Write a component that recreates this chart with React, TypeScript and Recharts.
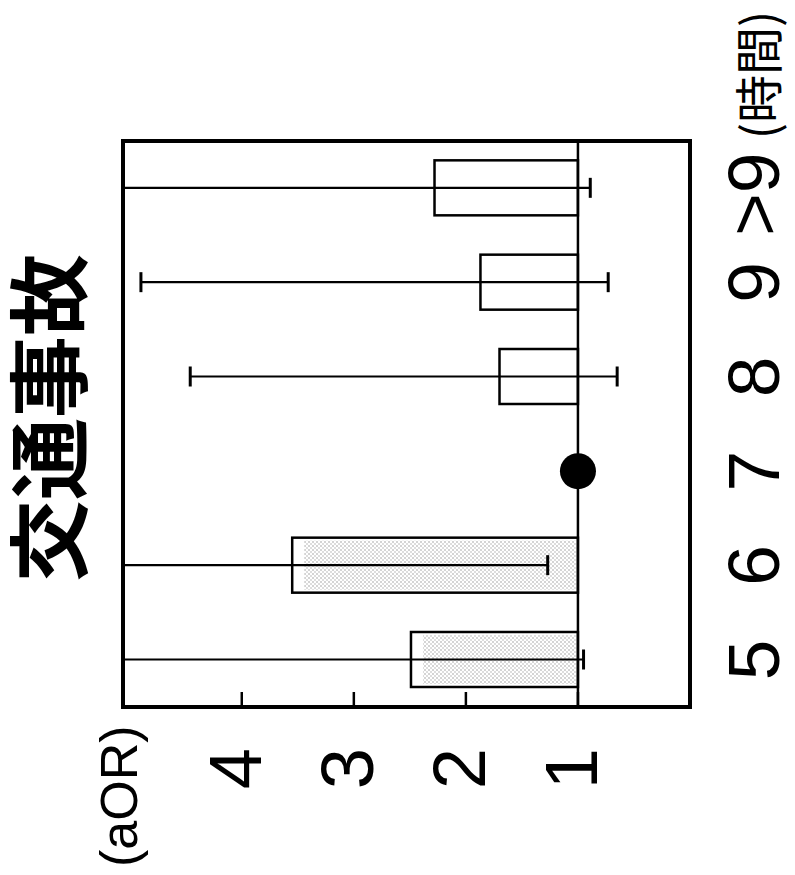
import { ComposedChart, Bar, XAxis, YAxis, ReferenceLine, ReferenceDot, ReferenceArea } from 'recharts';

// adjusted odds ratio of traffic accidents by sleep hours
const categories = ['5', '6', '7', '8', '9', '>9'];
const aor = [2.49, 3.55, null, 1.7, 1.87, 2.28];
const ciLow = [0.95, 1.27, null, 0.65, 0.73, 0.89];
const ciHigh = [5.8, 6.2, null, 4.46, 4.9, 5.6];
const yTicks = [1, 2, 3, 4];
const referenceCategory = '7';
const shadedCategories = ['5', '6'];

const data = categories.map((cat, i) => ({
    cat,
    bar: aor[i] == null ? null : [1, aor[i]],
    ci: ciLow[i] == null ? null : [ciLow[i], ciHigh[i]],
}));

const W = 875;
const H = 795;
const DOMAIN: [number, number] = [0, 5.06];
const latin = "'Liberation Sans', Arial, sans-serif";
const cjk = "'Noto Sans CJK JP', sans-serif";

const BarShape = (props: any) => {
    const { x, y, width, height, payload } = props;
    if (!height) return null;
    const top = Math.min(y, y + height);
    const h = Math.abs(height);
    const shaded = shadedCategories.includes(payload.cat);
    return (
        <g>
            <rect x={x} y={top} width={width} height={h} fill="#fff" />
            {shaded && h > 14 && (
                <rect x={x + 3} y={top + 12} width={width - 6} height={h - 14} fill="url(#stipple)" />
            )}
            <rect x={x} y={top} width={width} height={h} fill="none" stroke="#000" strokeWidth={2.5} />
        </g>
    );
};

const Whisker = (props: any) => {
    const { x, y, width, height } = props;
    if (height == null || isNaN(height)) return null;
    const cx = x + width / 2;
    const top = Math.min(y, y + height);
    const bottom = Math.max(y, y + height);
    return (
        <g stroke="#000">
            <line x1={cx} x2={cx} y1={top} y2={bottom} strokeWidth={2.2} />
            <line x1={cx - 10} x2={cx + 10} y1={top} y2={top} strokeWidth={3} />
            <line x1={cx - 10} x2={cx + 10} y1={bottom} y2={bottom} strokeWidth={3} />
        </g>
    );
};

const CatTick = (props: any) => {
    const { x, y, payload } = props;
    const last = payload.value === '>9';
    return (
        <g>
            <text x={last ? x - 6 : x} y={y + 89} textAnchor="middle" fontFamily={latin} fontSize={73} fill="#000">
                {payload.value}
            </text>
            {last && (
                <text x={x + 49} y={y + 87} fontFamily={cjk} fontSize={48} fill="#000">
                    (時間)
                </text>
            )}
        </g>
    );
};

const ValTick = (props: any) => {
    const { x, y, payload } = props;
    return (
        <g>
            <line x1={x} x2={x + 15} y1={y} y2={y} stroke="#000" strokeWidth={2.5} />
            <text x={x - 41} y={y + 19.5} textAnchor="end" fontFamily={latin} fontSize={74} fill="#000">
                {payload.value}
            </text>
        </g>
    );
};

export default function App() {
    return (
        <div style={{ position: 'absolute', left: 0, top: 0, width: 795, height: 875, overflow: 'hidden', background: '#fff' }}>
            <div
                style={{
                    position: 'absolute',
                    left: 0,
                    top: 0,
                    width: W,
                    height: H,
                    transformOrigin: 'top left',
                    transform: `translate(0px, ${W}px) rotate(-90deg)`,
                }}
            >
                <ComposedChart
                    width={W}
                    height={H}
                    data={data}
                    margin={{ top: 123, right: 141, bottom: 5, left: 18 }}
                    barSize={55}
                    barGap={-55}
                >
                    <defs>
                        <pattern id="stipple" width="4" height="4" patternUnits="userSpaceOnUse">
                            <rect width="4" height="4" fill="#fff" />
                            <rect x="0.5" y="0.5" width="1" height="1" fill="#555" />
                            <rect x="2.5" y="2.5" width="1" height="1" fill="#777" />
                        </pattern>
                    </defs>
                    <XAxis
                        dataKey="cat"
                        height={100}
                        interval={0}
                        axisLine={false}
                        tickLine={false}
                        tickSize={0}
                        tickMargin={0}
                        tick={<CatTick />}
                    />
                    <YAxis
                        type="number"
                        domain={DOMAIN}
                        allowDataOverflow
                        ticks={yTicks}
                        width={150}
                        axisLine={false}
                        tickLine={false}
                        tickSize={0}
                        tickMargin={0}
                        tick={<ValTick />}
                    />
                    <ReferenceArea y1={DOMAIN[0]} y2={DOMAIN[1]} fill="none" stroke="#000" strokeWidth={4} ifOverflow="visible" />
                    <ReferenceLine y={1} stroke="#000" strokeWidth={2.5} />
                    <Bar dataKey="bar" isAnimationActive={false} shape={<BarShape />} />
                    <Bar dataKey="ci" isAnimationActive={false} shape={<Whisker />} />
                    <ReferenceDot x={referenceCategory} y={1} r={18} fill="#000" stroke="none" />
                </ComposedChart>
                <svg width={W} height={H} style={{ position: 'absolute', left: 0, top: 0, pointerEvents: 'none' }}>
                    <text x={457} y={80} textAnchor="middle" fontFamily={cjk} fontWeight={700} fontSize={82} fill="#000">
                        交通事故
                    </text>
                    <text x={8} y={137} fontFamily={latin} fontSize={52} fill="#000">
                        (aOR)
                    </text>
                </svg>
            </div>
        </div>
    );
}
